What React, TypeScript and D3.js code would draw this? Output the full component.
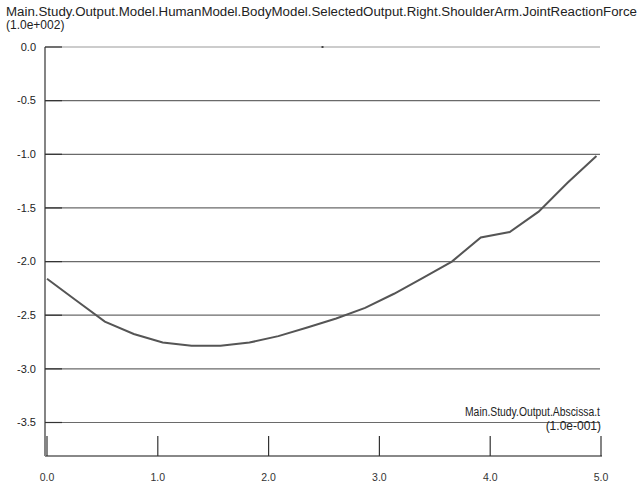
import React from "react";
import * as d3 from "d3";

const tValues = [0, 0.261, 0.522, 0.783, 1.044, 1.305, 1.566, 1.827, 2.088, 2.349, 2.61, 2.871, 3.132, 3.393, 3.654, 3.915, 4.176, 4.437, 4.698, 4.959];
const forceValues = [-2.16, -2.36, -2.56, -2.675, -2.755, -2.785, -2.785, -2.755, -2.695, -2.615, -2.53, -2.432, -2.3, -2.151, -2.0, -1.775, -1.725, -1.535, -1.265, -1.015];
const yTicks = [0.0, -0.5, -1.0, -1.5, -2.0, -2.5, -3.0, -3.5];
const xTicks = [0, 1, 2, 3, 4, 5];
const title = "Main.Study.Output.Model.HumanModel.BodyModel.SelectedOutput.Right.ShoulderArm.JointReactionForce";
const yScaleLabel = "(1.0e+002)";
const xTitle = "Main.Study.Output.Abscissa.t";
const xScaleLabel = "(1.0e-001)";

export default function App() {
  const W = 641, H = 487;
  const left = 45;
  const x = d3.scaleLinear().domain([0, 5]).range([47, 601]);
  const y = d3.scaleLinear().domain([0, -3.5]).range([47, 422.5]);
  const axisY = 456;
  const pts = tValues.map((t, i) => [t, forceValues[i]] as [number, number]);
  const line = d3.line<[number, number]>().x(d => x(d[0])).y(d => y(d[1]));
  const font = "'Liberation Sans', Arial, Helvetica, sans-serif";
  return (
    <div style={{ position: "absolute", left: 0, top: 0 }}>
      <svg width={W} height={H} style={{ display: "block", background: "#fff" }} fontFamily={font}>
        <text x={6} y={16} fontSize={12.5} fill="#222" textLength={631} lengthAdjust="spacingAndGlyphs">{title}</text>
        <text x={6} y={29} fontSize={12} fill="#222">{yScaleLabel}</text>
        {yTicks.map((v, i) => (
          <g key={v}>
            <line x1={left} x2={600} y1={y(v)} y2={y(v)} stroke={i === 0 ? "#9a9a9a" : "#6a6a6a"} strokeWidth={1.2} />
            <line x1={left} x2={left + 17} y1={y(v)} y2={y(v)} stroke="#333" strokeWidth={1.2} />
            <text x={36} y={y(v)} dy="0.35em" textAnchor="end" fontSize={11} fill="#222">{v.toFixed(1)}</text>
          </g>
        ))}
        <rect x={(left + 600) / 2 - 1} y={y(0) - 1} width={2} height={2} fill="#444" />
        <line x1={left} x2={left} y1={y(0)} y2={axisY} stroke="#333" strokeWidth={1.2} />
        <line x1={left} x2={602} y1={axisY} y2={axisY} stroke="#888" strokeWidth={2} />
        {xTicks.map(v => (
          <g key={v}>
            <line x1={x(v)} x2={x(v)} y1={436} y2={axisY} stroke="#333" strokeWidth={1.2} />
            <text x={x(v)} y={477} dy="0.35em" textAnchor="middle" fontSize={10.5} fill="#333">{v.toFixed(1)}</text>
          </g>
        ))}
        <text x={600} y={416} textAnchor="end" fontSize={12} fill="#222" textLength={135} lengthAdjust="spacingAndGlyphs">{xTitle}</text>
        <text x={601} y={430} textAnchor="end" fontSize={12} fill="#222">{xScaleLabel}</text>
        <path d={line(pts) || ""} fill="none" stroke="#555" strokeWidth={2} />
      </svg>
    </div>
  );
}
